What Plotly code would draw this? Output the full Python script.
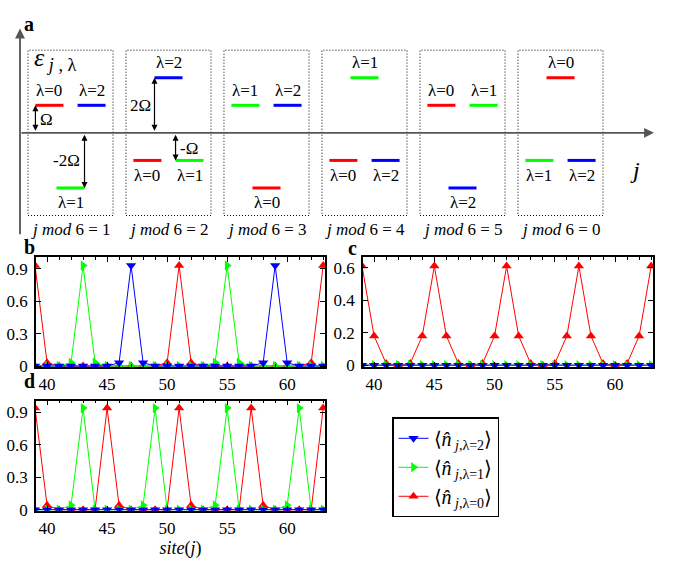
import plotly.graph_objects as go

W, H = 683, 568
SERIF = "Liberation Serif"

# ---------------- data ----------------
# panel a: energy levels (units of Omega) per box j mod 6 = 1,2,3,4,5,0
box_labels = ["1", "2", "3", "4", "5", "0"]
level_l0 = [1, -1, -2, -1, 1, 2]
level_l1 = [-2, -1, 1, 2, 1, -1]
level_l2 = [1, 2, 1, -1, -2, -1]

sites = list(range(39, 64))
# panel b
b_l0 = [0.93, 0.03, 0, 0, 0, 0, 0, 0, 0, 0, 0, 0.03, 0.93, 0.03, 0, 0, 0, 0, 0, 0, 0, 0, 0, 0.03, 0.93]
b_l1 = [0, 0, 0, 0.03, 0.93, 0.03, 0, 0, 0, 0, 0, 0, 0, 0, 0, 0.03, 0.93, 0.03, 0, 0, 0, 0, 0, 0, 0]
b_l2 = [0, 0, 0, 0, 0, 0, 0, 0.03, 0.93, 0.03, 0, 0, 0, 0, 0, 0, 0, 0, 0, 0.03, 0.93, 0.03, 0, 0, 0]
# panel c
c_l0 = [0.61, 0.18, 0.01, 0, 0.01, 0.18, 0.61, 0.18, 0.01, 0, 0.01, 0.18, 0.61,
        0.18, 0.01, 0, 0.01, 0.18, 0.61, 0.18, 0.01, 0, 0.01, 0.18, 0.61]
c_l1 = [0] * 25
c_l2 = [0] * 25
# panel d
d_l0 = [0.94, 0.04, 0, 0, 0, 0, 0.94, 0.04, 0, 0, 0, 0, 0.94, 0.04, 0, 0, 0, 0,
        0.94, 0.04, 0, 0, 0, 0, 0.94]
d_l1 = [0, 0, 0, 0.04, 0.94, 0, 0, 0, 0, 0.04, 0.94, 0, 0, 0, 0, 0.04, 0.94, 0,
        0, 0, 0, 0.04, 0.94, 0, 0]
d_l2 = [0] * 25

legend_names = ["⟨<i>n̂</i><sub> <i>j</i>,λ=0</sub>⟩",
                "⟨<i>n̂</i><sub> <i>j</i>,λ=1</sub>⟩",
                "⟨<i>n̂</i><sub> <i>j</i>,λ=2</sub>⟩"]
colors = ["#ff0000", "#00ff00", "#0000ff"]
symbols = ["triangle-up", "triangle-right", "triangle-down"]

# ---------------- layout helpers ----------------
def xd(p0, p1):
    return [p0 / W, p1 / W]

def yd(top, bot):
    return [1 - bot / H, 1 - top / H]

fig = go.Figure()

# ---------------- panels b, c, d ----------------
panels = [("x", "y", [b_l0, b_l1, b_l2]),
          ("x2", "y2", [c_l0, c_l1, c_l2]),
          ("x3", "y3", [d_l0, d_l1, d_l2])]
for pi, (xa, ya, series) in enumerate(panels):
    for li in range(3):
        fig.add_trace(go.Scatter(
            x=sites, y=series[li], xaxis=xa, yaxis=ya, mode="lines+markers",
            line=dict(color=colors[li], width=1),
            marker=dict(symbol=symbols[li], size=9, color=colors[li]),
            name=legend_names[li], showlegend=(pi == 2)))

# ---------------- panel a ----------------
PXU = 98.0   # px per box
PYU = 28.0   # px per Omega
slot = 0.215
half = 0.143
levels = [level_l0, level_l1, level_l2]
annots = []
lines_x = {0: [], 1: [], 2: []}
lines_y = {0: [], 1: [], 2: []}
pos = {}
for k in range(6):
    es = [levels[l][k] for l in range(3)]
    shared = [l for l in range(3) if es.count(es[l]) == 2]
    for l in range(3):
        if l in shared:
            xc = k - slot if l == min(shared) else k + slot
        else:
            xc = k
        pos[(k, l)] = xc
        e = es[l]
        lines_x[l] += [xc - half, xc + half, None]
        lines_y[l] += [e, e, None]
        annots.append(dict(x=xc, y=e, xref="x4", yref="y4", text=f"λ={l}",
                           showarrow=False, yshift=15 if e > 0 else -15,
                           font=dict(family=SERIF, size=17, color="black")))
for l in range(3):
    fig.add_trace(go.Scatter(x=lines_x[l], y=lines_y[l], xaxis="x4", yaxis="y4",
                             mode="lines", line=dict(color=colors[l], width=3),
                             showlegend=False, hoverinfo="skip"))

shapes = []
for k in range(6):
    shapes.append(dict(type="rect", xref="x4", yref="y4", x0=k - 0.434, x1=k + 0.434,
                       y0=-3, y1=3, line=dict(color="black", width=1, dash="1px,2px")))
    annots.append(dict(x=k, y=-3.5, xref="x4", yref="y4",
                       text=f"<i>j mod</i> 6 = {box_labels[k]}", showarrow=False,
                       font=dict(family=SERIF, size=17, color="black")))

# axes of panel a
x_ax0 = (20 - 70.5) / PXU
x_ax1 = (654 - 70.5) / PXU
annots.append(dict(x=x_ax1, y=0, ax=x_ax0, ay=0, xref="x4", yref="y4", axref="x4", ayref="y4",
                   text=" ", showarrow=True, arrowhead=2, arrowsize=1.1, arrowwidth=1.8,
                   arrowcolor="#555555", font=dict(size=1)))
annots.append(dict(x=x_ax0, y=(135 - 29) / PYU, ax=x_ax0, ay=(135 - 240) / PYU,
                   xref="x4", yref="y4", axref="x4", ayref="y4",
                   text=" ", showarrow=True, arrowhead=2, arrowsize=1.1, arrowwidth=1.8,
                   arrowcolor="#555555", font=dict(size=1)))

# Omega arrows
def darrow(xv, e):
    annots.append(dict(x=xv, y=e, ax=xv, ay=0, xref="x4", yref="y4", axref="x4", ayref="y4",
                       text=" ", showarrow=True, arrowhead=2, arrowside="end+start",
                       arrowsize=1, arrowwidth=1.2, arrowcolor="black", font=dict(size=1)))

xa1 = pos[(0, 0)] - half
darrow(xa1, level_l0[0])
annots.append(dict(x=xa1, y=0.5, xref="x4", yref="y4", text="Ω", showarrow=False,
                   xanchor="left", xshift=3, font=dict(family=SERIF, size=17, color="black")))
xa2 = pos[(0, 1)] + half
darrow(xa2, level_l1[0])
annots.append(dict(x=xa2, y=-1, xref="x4", yref="y4", text="-2Ω", showarrow=False,
                   xanchor="right", xshift=-3, font=dict(family=SERIF, size=17, color="black")))
xa3 = pos[(1, 2)] - half
darrow(xa3, level_l2[1])
annots.append(dict(x=xa3, y=1, xref="x4", yref="y4", text="2Ω", showarrow=False,
                   xanchor="right", xshift=-1, font=dict(family=SERIF, size=17, color="black")))
xa4 = pos[(1, 1)] - half
darrow(xa4, level_l1[1])
annots.append(dict(x=xa4, y=-0.55, xref="x4", yref="y4", text="-Ω", showarrow=False,
                   xanchor="left", xshift=2, font=dict(family=SERIF, size=17, color="black")))

# axis labels of panel a
annots.append(dict(x=32 / W, y=1 - 42 / H, xref="paper", yref="paper", xanchor="left",
                   text="<i>ε</i><sub> <i>j</i> , λ</sub>", showarrow=False,
                   font=dict(family=SERIF, size=26, color="black")))
annots.append(dict(x=642 / W, y=1 - 158 / H, xref="paper", yref="paper",
                   text="<i>j</i>", showarrow=False,
                   font=dict(family=SERIF, size=24, color="black")))

# panel letters
for txt, px, py in [("a", 22, 11), ("b", 22, 251), ("c", 352, 252), ("d", 22, 400)]:
    annots.append(dict(x=px / W, y=1 - py / H, xref="paper", yref="paper", text=f"<b>{txt}</b>",
                       showarrow=False, font=dict(family=SERIF, size=20, color="black")))

# ---------------- axes styling ----------------
tickfont = dict(family=SERIF, size=17, color="black")
def xstyle(dom):
    return dict(domain=dom, range=[39.08, 63.15], tickvals=[40, 45, 50, 55, 60],
                ticks="inside", ticklen=5, tickcolor="black", mirror="ticks", showline=True,
                linecolor="black", linewidth=1.5, showgrid=False, zeroline=False,
                minor=dict(dtick=1, tick0=39, ticks="inside", ticklen=3, tickcolor="black"),
                tickfont=tickfont, ticklabelstandoff=1)

def ystyle(dom, rng, vals):
    return dict(domain=dom, range=rng, tickvals=vals, ticktext=[("0" if v == 0 else f"{v:g}") for v in vals],
                ticks="inside", ticklen=5, tickcolor="black", mirror="ticks", showline=True,
                linecolor="black", linewidth=1.5, showgrid=False, zeroline=False,
                tickfont=tickfont, ticklabelstandoff=3)

fig.update_layout(
    width=W, height=H, margin=dict(l=0, r=0, t=0, b=0),
    paper_bgcolor="white", plot_bgcolor="white",
    xaxis=xstyle(xd(36, 325)),
    yaxis=ystyle(yd(261, 373), [-0.01, 1.01], [0, 0.3, 0.6, 0.9]),
    xaxis2=dict(xstyle(xd(363, 653)), anchor="y2"),
    yaxis2=dict(ystyle(yd(261, 373), [-0.012, 0.667], [0, 0.2, 0.4, 0.6]), anchor="x2"),
    xaxis3=dict(xstyle(xd(36, 325)), anchor="y3",
                title=dict(text="<i>site</i>(<i>j</i>)", standoff=2,
                           font=dict(family=SERIF, size=18, color="black"))),
    yaxis3=dict(ystyle(yd(407, 519), [-0.01, 1.01], [0, 0.3, 0.6, 0.9]), anchor="x3"),
    xaxis4=dict(domain=[0, 1], range=[(0 - 70.5) / PXU, (W - 70.5) / PXU], visible=False,
                anchor="y4"),
    yaxis4=dict(domain=yd(0, 245), range=[(135 - 245) / PYU, 135 / PYU], visible=False,
                anchor="x4"),
    shapes=shapes, annotations=annots,
    legend=dict(x=392 / W, y=1 - 424 / H, xanchor="left", yanchor="top",
                traceorder="reversed", bgcolor="white", bordercolor="black", borderwidth=1.5,
                font=dict(family=SERIF, size=20, color="black"), itemwidth=30,
                tracegroupgap=0),
    showlegend=True,
)

fig.write_html("out.html")
